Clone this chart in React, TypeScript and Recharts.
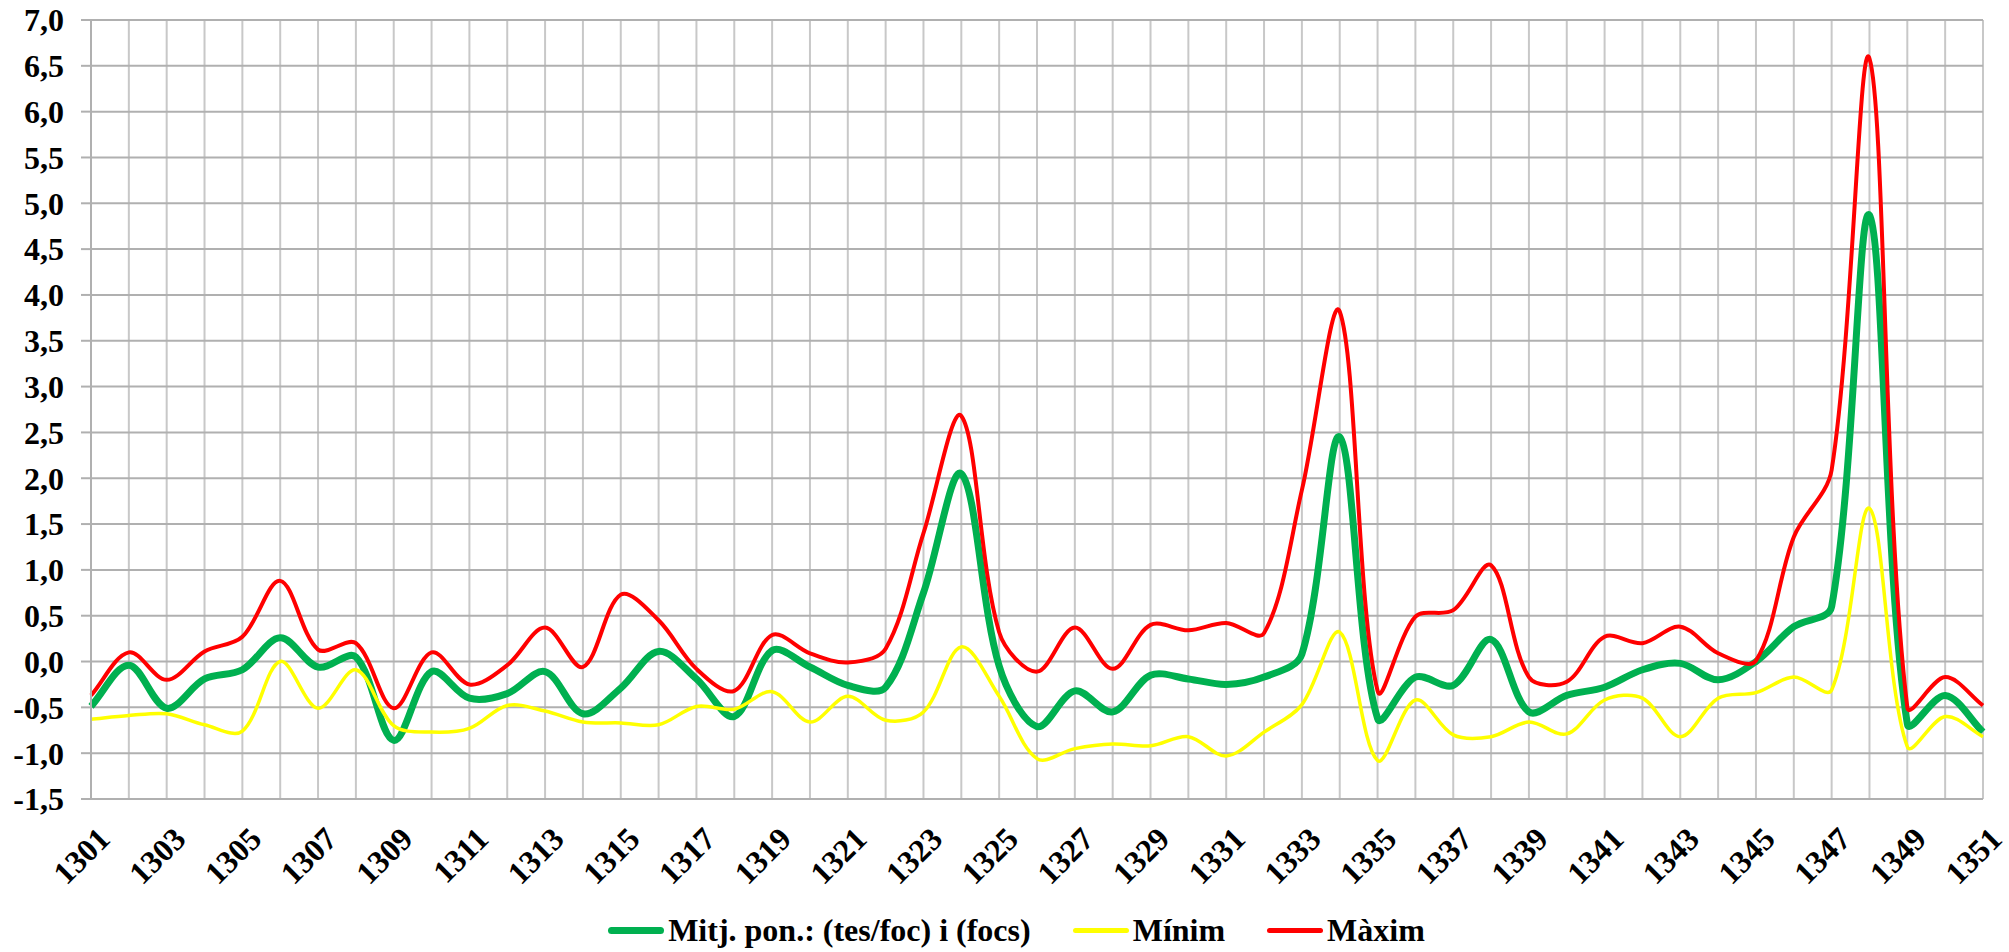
import { LineChart, Line, XAxis, YAxis, CartesianGrid, Legend } from 'recharts';

const YEARS = [
  1301, 1302, 1303, 1304, 1305, 1306, 1307, 1308, 1309, 1310,
  1311, 1312, 1313, 1314, 1315, 1316, 1317, 1318, 1319, 1320,
  1321, 1322, 1323, 1324, 1325, 1326, 1327, 1328, 1329, 1330,
  1331, 1332, 1333, 1334, 1335, 1336, 1337, 1338, 1339, 1340,
  1341, 1342, 1343, 1344, 1345, 1346, 1347, 1348, 1349, 1350, 1351,
];

// Mitj. pon.: (tes/foc) i (focs)
const MITJANA = [
  -0.49, -0.04, -0.51, -0.19, -0.09, 0.26, -0.06, 0.05, -0.86, -0.11,
  -0.4, -0.35, -0.11, -0.57, -0.29, 0.11, -0.19, -0.6, 0.12, -0.06,
  -0.26, -0.28, 0.75, 2.05, -0.05, -0.71, -0.32, -0.55, -0.15, -0.19,
  -0.25, -0.17, 0.08, 2.45, -0.62, -0.17, -0.26, 0.24, -0.55, -0.37,
  -0.28, -0.09, -0.02, -0.2, 0.0, 0.38, 0.6, 4.87, -0.68, -0.37, -0.77,
];

const MINIM = [
  -0.63, -0.59, -0.57, -0.69, -0.76, 0.0, -0.51, -0.09, -0.7, -0.77,
  -0.73, -0.48, -0.54, -0.66, -0.67, -0.69, -0.49, -0.52, -0.33, -0.66,
  -0.38, -0.64, -0.55, 0.16, -0.38, -1.06, -0.95, -0.9, -0.92, -0.82,
  -1.03, -0.77, -0.47, 0.32, -1.08, -0.42, -0.8, -0.82, -0.66, -0.79,
  -0.42, -0.4, -0.82, -0.4, -0.34, -0.17, -0.31, 1.67, -0.93, -0.6, -0.82,
];

const MAXIM = [
  -0.37, 0.1, -0.2, 0.11, 0.27, 0.88, 0.13, 0.2, -0.51, 0.1,
  -0.25, -0.04, 0.37, -0.06, 0.73, 0.45, -0.08, -0.32, 0.29, 0.09,
  -0.01, 0.14, 1.4, 2.68, 0.32, -0.11, 0.37, -0.08, 0.4, 0.34,
  0.42, 0.31, 1.87, 3.82, -0.32, 0.49, 0.56, 1.05, -0.17, -0.22,
  0.27, 0.2, 0.38, 0.09, 0.01, 1.36, 2.09, 6.58, -0.5, -0.17, -0.48,
];

const Y_TICKS = [-1.5, -1, -0.5, 0, 0.5, 1, 1.5, 2, 2.5, 3, 3.5, 4, 4.5, 5, 5.5, 6, 6.5, 7];

const SERIES = [
  { key: 'mitjana', name: 'Mitj. pon.: (tes/foc) i (focs)', color: '#00B050', width: 7 },
  { key: 'minim', name: 'Mínim', color: '#FFFF00', width: 3.5 },
  { key: 'maxim', name: 'Màxim', color: '#FF0000', width: 4 },
];

const FONT = '"Liberation Serif", "Times New Roman", serif';

const data = YEARS.map((year, i) => ({
  year,
  mitjana: MITJANA[i],
  minim: MINIM[i],
  maxim: MAXIM[i],
}));

// Excel-like smoothed line: Catmull-Rom beziers, tangents weighted by segment length
function excelSmooth(context: any) {
  let pts: [number, number][] = [];
  const dist = (a: [number, number], b: [number, number]) => Math.hypot(b[0] - a[0], b[1] - a[1]);
  return {
    areaStart() {},
    areaEnd() {},
    lineStart() {
      pts = [];
    },
    lineEnd() {
      if (!pts.length) return;
      context.moveTo(pts[0][0], pts[0][1]);
      for (let i = 0; i < pts.length - 1; i++) {
        const p0 = pts[i - 1] || pts[i];
        const p1 = pts[i];
        const p2 = pts[i + 1];
        const p3 = pts[i + 2] || p2;
        const d01 = dist(p0, p1);
        const d12 = dist(p1, p2);
        const d23 = dist(p2, p3);
        const f1 = d01 + d12 > 0 ? d12 / (d01 + d12) / 3 : 0;
        const f2 = d12 + d23 > 0 ? d12 / (d12 + d23) / 3 : 0;
        context.bezierCurveTo(
          p1[0] + (p2[0] - p0[0]) * f1,
          p1[1] + (p2[1] - p0[1]) * f1,
          p2[0] - (p3[0] - p1[0]) * f2,
          p2[1] - (p3[1] - p1[1]) * f2,
          p2[0],
          p2[1],
        );
      }
    },
    point(x: number, y: number) {
      pts.push([x, y]);
    },
  };
}

function YearTick(props: any) {
  const { x, y, payload } = props;
  if (payload.value % 2 === 0) return null;
  return (
    <g transform={`translate(${x + 5},${y + 26})`}>
      <text
        transform="rotate(-45)"
        textAnchor="end"
        dy="0.7em"
        fill="#000"
        fontFamily={FONT}
        fontWeight="bold"
        fontSize={32}
      >
        {payload.value}
      </text>
    </g>
  );
}

function LegendContent() {
  return (
    <div
      style={{
        display: 'flex',
        justifyContent: 'center',
        alignItems: 'center',
        paddingTop: 16,
        paddingLeft: 50,
        fontFamily: FONT,
        fontWeight: 'bold',
        fontSize: 32,
        lineHeight: '36px',
        color: '#000',
      }}
    >
      {SERIES.map((s) => (
        <div key={s.key} style={{ display: 'flex', alignItems: 'center', margin: '0 21px' }}>
          <span
            style={{
              display: 'inline-block',
              width: 56,
              height: s.key === 'mitjana' ? 7 : 5,
              borderRadius: 4,
              background: s.color,
              marginRight: 4,
            }}
          />
          <span>{s.name}</span>
        </div>
      ))}
    </div>
  );
}

export default function App() {
  return (
    <div>
      <style>{'body{margin:0;background:#fff}'}</style>
      <LineChart width={2009} height={952} data={data} margin={{ top: 20, right: 26, left: 0, bottom: 0 }}>
        <CartesianGrid horizontal={false} stroke="#c8c8c8" strokeWidth={2} />
        <CartesianGrid vertical={false} stroke="#b0b0b0" strokeWidth={2} />
        <XAxis
          dataKey="year"
          type="number"
          domain={[1301, 1351]}
          ticks={YEARS}
          interval={0}
          height={97}
          axisLine={{ stroke: '#b0b0b0', strokeWidth: 2 }}
          tickLine={false}
          tickSize={0}
          tickMargin={0}
          tick={<YearTick />}
        />
        <YAxis
          domain={[-1.5, 7]}
          ticks={Y_TICKS}
          interval={0}
          width={91}
          axisLine={{ stroke: '#b0b0b0', strokeWidth: 2 }}
          tickLine={{ stroke: '#b0b0b0', strokeWidth: 2 }}
          tickSize={10}
          tickMargin={17}
          tickFormatter={(v: number) => v.toFixed(1).replace('.', ',')}
          tick={{ fill: '#000', fontFamily: FONT, fontWeight: 'bold', fontSize: 32 }}
        />
        <Legend verticalAlign="bottom" height={56} content={<LegendContent />} />
        {SERIES.map((s) => (
          <Line
            key={s.key}
            dataKey={s.key}
            name={s.name}
            type={excelSmooth as any}
            stroke={s.color}
            strokeWidth={s.width}
            dot={false}
            activeDot={false}
            isAnimationActive={false}
          />
        ))}
      </LineChart>
    </div>
  );
}
